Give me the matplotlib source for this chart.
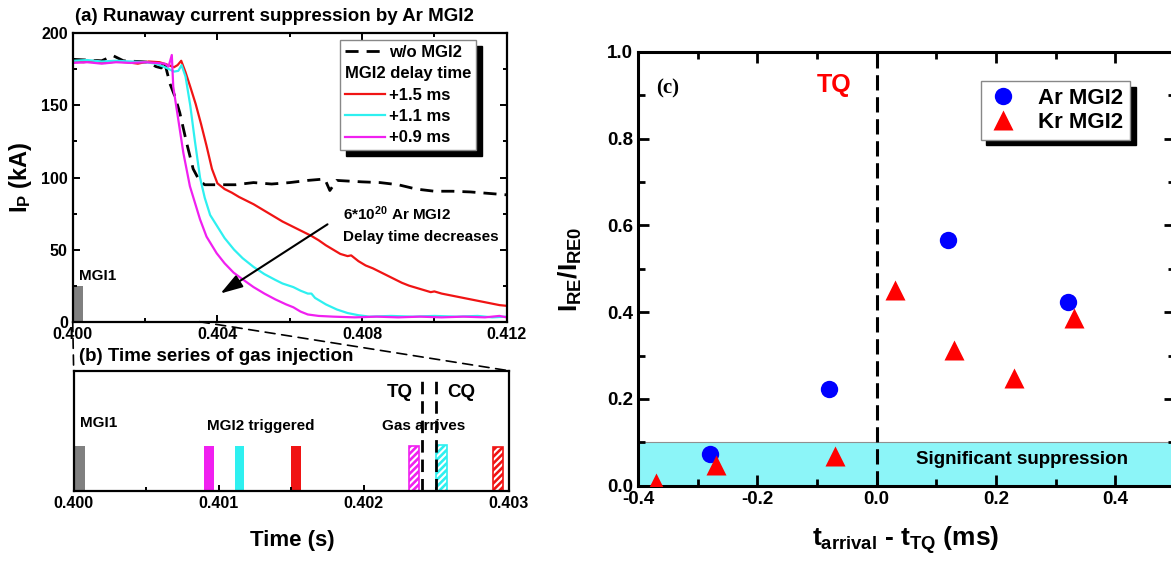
import matplotlib
matplotlib.use('Agg')
import matplotlib.pyplot as plt
from matplotlib.lines import Line2D
from matplotlib.patches import ConnectionPatch
from matplotlib.ticker import MultipleLocator, FormatStrFormatter

plt.rcParams['font.family'] = ['Liberation Sans', 'DejaVu Sans']
plt.rcParams['font.weight'] = 'bold'
plt.rcParams['axes.labelweight'] = 'bold'
plt.rcParams['axes.unicode_minus'] = False
plt.rcParams['mathtext.fontset'] = 'custom'
plt.rcParams['mathtext.rm'] = 'Liberation Sans:bold'
plt.rcParams['mathtext.it'] = 'Liberation Sans:bold'
plt.rcParams['mathtext.bf'] = 'Liberation Sans:bold'
plt.rcParams['hatch.linewidth'] = 1.5

RED = '#f01414'
CYAN = '#2ef0f0'
MAG = '#f020f0'

## (a) plasma current, t in s, Ip in kA
t_wo = [0.4000, 0.4004, 0.4008, 0.40112, 0.4014, 0.4018, 0.4021, 0.4023, 0.40245, 0.40252,
        0.4026, 0.40269, 0.40283, 0.40296, 0.40315, 0.40333, 0.4035, 0.40365, 0.4040, 0.4045,
        0.4050, 0.4055, 0.4060, 0.4065, 0.40697, 0.40711, 0.4073, 0.4080, 0.4085, 0.4090,
        0.4095, 0.4100, 0.4105, 0.4110, 0.4115, 0.4120]
i_wo = [182, 181.5, 181, 184.5, 181, 180.5, 180, 177, 176, 182,
        174, 165, 156, 145, 124, 106, 98, 95, 95, 95,
        96.5, 95.5, 96.5, 98, 99, 91, 98, 97, 96.5, 95,
        92, 90.5, 90.5, 90, 89, 88]

t_red = [0.4000, 0.4003, 0.4006, 0.4009, 0.4012, 0.4015, 0.4018, 0.4021, 0.4024,
         0.40265, 0.4028, 0.4029, 0.4030,
         0.40312, 0.40325, 0.4034, 0.40355, 0.4037, 0.40385,
         0.4040, 0.4042, 0.4044, 0.4046, 0.4048, 0.4050, 0.4052, 0.4054, 0.4056, 0.4058,
         0.4060, 0.4062, 0.4064, 0.4066, 0.4068, 0.4070, 0.4072, 0.4074, 0.4076,
         0.4077, 0.4079,
         0.4081, 0.4083, 0.4085, 0.4087, 0.4089, 0.4091, 0.4093, 0.4095, 0.4097, 0.4099,
         0.4100,
         0.4102, 0.4104, 0.4106, 0.4108, 0.4110, 0.4112, 0.4114, 0.4116, 0.4118, 0.4120]
i_red = [180.5, 180, 181, 179.5, 180.5, 180, 179, 180.5, 180,
         178, 176.5, 178, 181,
         173, 163, 151, 137, 122, 106,
         96, 92, 89.5, 86.5, 84, 81.5, 78.5, 75.5, 72.5, 69.5,
         67, 64.5, 62, 59.5, 56.5, 53, 50, 47, 45.5,
         46, 42,
         39, 37, 34.5, 32, 29.5, 27, 25, 23.5, 22, 20.5,
         21,
         19.5, 18.5, 17.5, 16.5, 15.5, 14.5, 13.5, 12.5, 11.5, 11]

t_cy = [0.4000, 0.4004, 0.4008, 0.4012, 0.4016, 0.4020, 0.4023,
        0.4026, 0.4028, 0.40292, 0.40301,
        0.40312, 0.40325, 0.40338, 0.40352, 0.40365, 0.4038,
        0.4040, 0.4042, 0.40446, 0.4047, 0.4050, 0.4053, 0.4056, 0.4058, 0.4061, 0.4063,
        0.4065, 0.4066, 0.4067,
        0.4070, 0.4073, 0.4076, 0.4079, 0.4082,
        0.4088, 0.4094, 0.4100, 0.4106, 0.4112, 0.4116, 0.4120]
i_cy = [181, 181.5, 180.5, 181, 180.5, 180, 179,
        176, 173.5, 174, 178,
        170, 150, 125, 100, 86, 74,
        66, 58, 50, 44, 38, 33, 29, 26.5, 24, 21.5,
        19.5, 19.5, 16.5,
        12, 8.5, 6, 4.5, 3.5,
        4, 3.5, 4, 3.5, 4, 3, 3.5]

t_mg = [0.4000, 0.4004, 0.4008, 0.4012, 0.4016, 0.4020, 0.4023,
        0.40255, 0.40265, 0.40274, 0.40278,
        0.40292, 0.40306, 0.40324, 0.40352, 0.4037, 0.40398,
        0.4042, 0.40445, 0.40472, 0.4050, 0.4053, 0.4056, 0.4059, 0.4061, 0.4063, 0.4065, 0.4068,
        0.4072, 0.4078, 0.4084, 0.4090, 0.4096, 0.4102, 0.4108, 0.4114, 0.4118, 0.4120]
i_mg = [179.5, 180, 179, 180, 179.5, 180, 179.5,
        179, 177, 185, 163,
        140, 117, 94, 71, 59, 47.5,
        40.5, 34, 29, 24, 19.5, 15.5, 12, 10, 7, 5, 4,
        3.5, 3, 3.5, 3, 3.5, 3, 3.5, 3, 4, 3]

mgi1_t = 0.4000
mgi1_w = 0.00028
mgi1_h = 25

## (b) gas injection time series (left edges, s)
trig_t = [0.40090, 0.40111, 0.40150]
arrive_t = [0.40231, 0.40250, 0.40289]
arrive_h = [0.37, 0.38, 0.365]
bar_colors = [MAG, CYAN, RED]
t_TQ = 0.40240
t_CQ = 0.40250

## (c) suppression vs arrival time
ar_x = [-0.28, -0.08, 0.12, 0.32]
ar_y = [0.073, 0.222, 0.567, 0.423]
kr_x = [-0.37, -0.27, -0.07, 0.03, 0.13, 0.23, 0.33]
kr_y = [0.007, 0.048, 0.069, 0.452, 0.312, 0.249, 0.386]


fig = plt.figure(figsize=(11.71, 5.62), dpi=100)
ax_a = fig.add_axes([0.0621, 0.4276, 0.3706, 0.513])
ax_b = fig.add_axes([0.0629, 0.1269, 0.3715, 0.2135])
ax_c = fig.add_axes([0.5448, 0.1358, 0.4586, 0.7717])

# ---- (a)
h_wo, = ax_a.plot(t_wo, i_wo, color='k', lw=2, ls=(0, (4.7, 2.9)))
h_r, = ax_a.plot(t_red, i_red, color=RED, lw=1.6)
h_c, = ax_a.plot(t_cy, i_cy, color=CYAN, lw=1.6)
h_m, = ax_a.plot(t_mg, i_mg, color=MAG, lw=1.6)
ax_a.bar(mgi1_t, mgi1_h, width=mgi1_w, align='edge', color='#808080')
ax_a.text(0.40016, 32, 'MGI1', fontsize=11, va='center')

ax_a.annotate('', xy=(0.40402, 18.5), xytext=(0.40711, 68.6),
              arrowprops=dict(arrowstyle='-|>,head_length=0.9,head_width=0.28', color='k',
                              lw=1.5, mutation_scale=15))
ax_a.text(0.40747, 75, r'6*10$^{20}$ Ar MGI2', fontsize=11, va='center')
ax_a.text(0.40747, 59, 'Delay time decreases', fontsize=11, va='center')

ax_a.set_xlim(0.400, 0.412)
ax_a.set_ylim(0, 200)
ax_a.xaxis.set_major_locator(MultipleLocator(0.004))
ax_a.xaxis.set_minor_locator(MultipleLocator(0.002))
ax_a.xaxis.set_major_formatter(FormatStrFormatter('%.3f'))
ax_a.yaxis.set_major_locator(MultipleLocator(50))
ax_a.yaxis.set_minor_locator(MultipleLocator(25))
ax_a.tick_params(which='both', direction='in', top=True, right=True, width=1.4, labelsize=11.5)
ax_a.tick_params(which='major', length=5)
ax_a.tick_params(which='minor', length=3)
for s in ax_a.spines.values():
    s.set_linewidth(1.6)
ax_a.set_ylabel(r'$I_P$ (kA)', fontsize=17)
ax_a.yaxis.set_label_coords(-0.09, 0.5)
ax_a.text(0.005, 1.058, '(a) Runaway current suppression by Ar MGI2', transform=ax_a.transAxes,
          fontsize=13.5, va='center')

blank = Line2D([], [], color='none')
leg = ax_a.legend([h_wo, blank, h_r, h_c, h_m],
                  ['w/o MGI2', 'MGI2 delay time', '+1.5 ms', '+1.1 ms', '+0.9 ms'],
                  loc='upper left', bbox_to_anchor=(0.616, 0.977), borderaxespad=0,
                  fontsize=12, handlelength=2.4, handletextpad=0.25, labelspacing=0.38,
                  borderpad=0.3, fancybox=False, framealpha=1, edgecolor='#888888',
                  shadow={'ox': 4, 'oy': -4, 'facecolor': 'k', 'edgecolor': 'k', 'alpha': 1})
leg.get_frame().set_linewidth(1.0)
try:
    rows = leg._legend_handle_box.get_children()[0].get_children()
    rows[1]._children = rows[1]._children[1:]
except Exception:
    pass

# ---- (b)
ax_b.bar(mgi1_t, 0.37, width=0.00008, align='edge', color='#808080')
for tt, c in zip(trig_t, bar_colors):
    ax_b.bar(tt, 0.37, width=0.000067, align='edge', color=c)
for tt, h, c in zip(arrive_t, arrive_h, bar_colors):
    ax_b.bar(tt, h, width=0.000073, align='edge', color=c, edgecolor='white', hatch='/////', lw=0)
    ax_b.bar(tt, h, width=0.000073, align='edge', fill=False, edgecolor=c, lw=1.2)
ax_b.vlines([t_TQ, t_CQ], 0, 0.92, colors='k', lw=2, linestyles=[(0, (4.5, 2.5))])
ax_b.text(0.400045, 0.56, 'MGI1', fontsize=11, va='center')
ax_b.text(0.40129, 0.54, 'MGI2 triggered', fontsize=11, va='center', ha='center')
ax_b.text(0.402415, 0.54, 'Gas arrives', fontsize=11, va='center', ha='center')
ax_b.text(0.40225, 0.82, 'TQ', fontsize=13.5, va='center', ha='center')
ax_b.text(0.40267, 0.82, 'CQ', fontsize=13.5, va='center', ha='center')
ax_b.set_xlim(0.400, 0.403)
ax_b.set_ylim(0, 1)
ax_b.xaxis.set_major_locator(MultipleLocator(0.001))
ax_b.xaxis.set_minor_locator(MultipleLocator(0.0005))
ax_b.xaxis.set_major_formatter(FormatStrFormatter('%.3f'))
ax_b.set_yticks([])
ax_b.tick_params(which='both', direction='in', width=1.4, labelsize=11.5)
ax_b.tick_params(which='major', length=4)
ax_b.tick_params(which='minor', length=3)
for s in ax_b.spines.values():
    s.set_linewidth(1.6)
ax_b.set_xlabel('Time (s)', fontsize=16)
ax_b.xaxis.set_label_coords(0.502, -0.33)
ax_b.text(0.012, 1.117, '(b) Time series of gas injection', transform=ax_b.transAxes,
          fontsize=13.5, va='center')

for xa, xb in [(0.400, 0.400), (0.4035, 0.403)]:
    con = ConnectionPatch(xyA=(xa, 0), coordsA=ax_a.transData, xyB=(xb, 1), coordsB=ax_b.transData,
                          color='k', lw=1.2, ls=(0, (6, 4)))
    fig.add_artist(con)

# ---- (c)
ax_c.axhspan(0, 0.1, facecolor='#8cf5f8', edgecolor='#909090', lw=0.8, zorder=0)
ax_c.axvline(0, color='k', lw=2.2, ls=(0, (5, 2.2)), zorder=1)
ax_c.plot(ar_x, ar_y, 'o', color='#0000ff', ms=12.5, mec='none', label='Ar MGI2', zorder=3)
ax_c.plot(kr_x, kr_y, '^', color='#ff0000', ms=14, mec='none', label='Kr MGI2', zorder=3)
ax_c.text(0.243, 0.06, 'Significant suppression', fontsize=13.5, ha='center', va='center')
ax_c.text(-0.072, 0.925, 'TQ', color='#ff0000', fontsize=18, ha='center', va='center')
ax_c.text(-0.35, 0.915, '(c)', family='Liberation Serif', fontsize=15, ha='center', va='center')
ax_c.set_xlim(-0.4, 0.5)
ax_c.set_ylim(0, 1)
ax_c.xaxis.set_major_locator(MultipleLocator(0.2))
ax_c.xaxis.set_minor_locator(MultipleLocator(0.1))
ax_c.yaxis.set_major_locator(MultipleLocator(0.2))
ax_c.yaxis.set_minor_locator(MultipleLocator(0.1))
ax_c.xaxis.set_major_formatter(FormatStrFormatter('%.1f'))
ax_c.yaxis.set_major_formatter(FormatStrFormatter('%.1f'))
ax_c.tick_params(which='both', direction='in', top=True, right=True, width=2, labelsize=13.5)
ax_c.tick_params(which='major', length=8)
ax_c.tick_params(which='minor', length=5)
for s in ax_c.spines.values():
    s.set_linewidth(2.2)
ax_c.set_ylabel(r'$I_{RE}/I_{RE0}$', fontsize=19)
ax_c.yaxis.set_label_coords(-0.1, 0.5)
ax_c.set_xlabel(r'$t_{arrival}$ - $t_{TQ}$ (ms)', fontsize=19)
ax_c.xaxis.set_label_coords(0.499, -0.09)
ax_c.legend(loc='upper left', bbox_to_anchor=(0.638, 0.933), borderaxespad=0, fontsize=16,
            handlelength=1.4, handletextpad=0.9, labelspacing=0.15, borderpad=0.3,
            fancybox=False, framealpha=1, edgecolor='#888888',
            shadow={'ox': 4, 'oy': -4, 'facecolor': 'k', 'edgecolor': 'k', 'alpha': 1})

fig.savefig('out.png', dpi=100)
